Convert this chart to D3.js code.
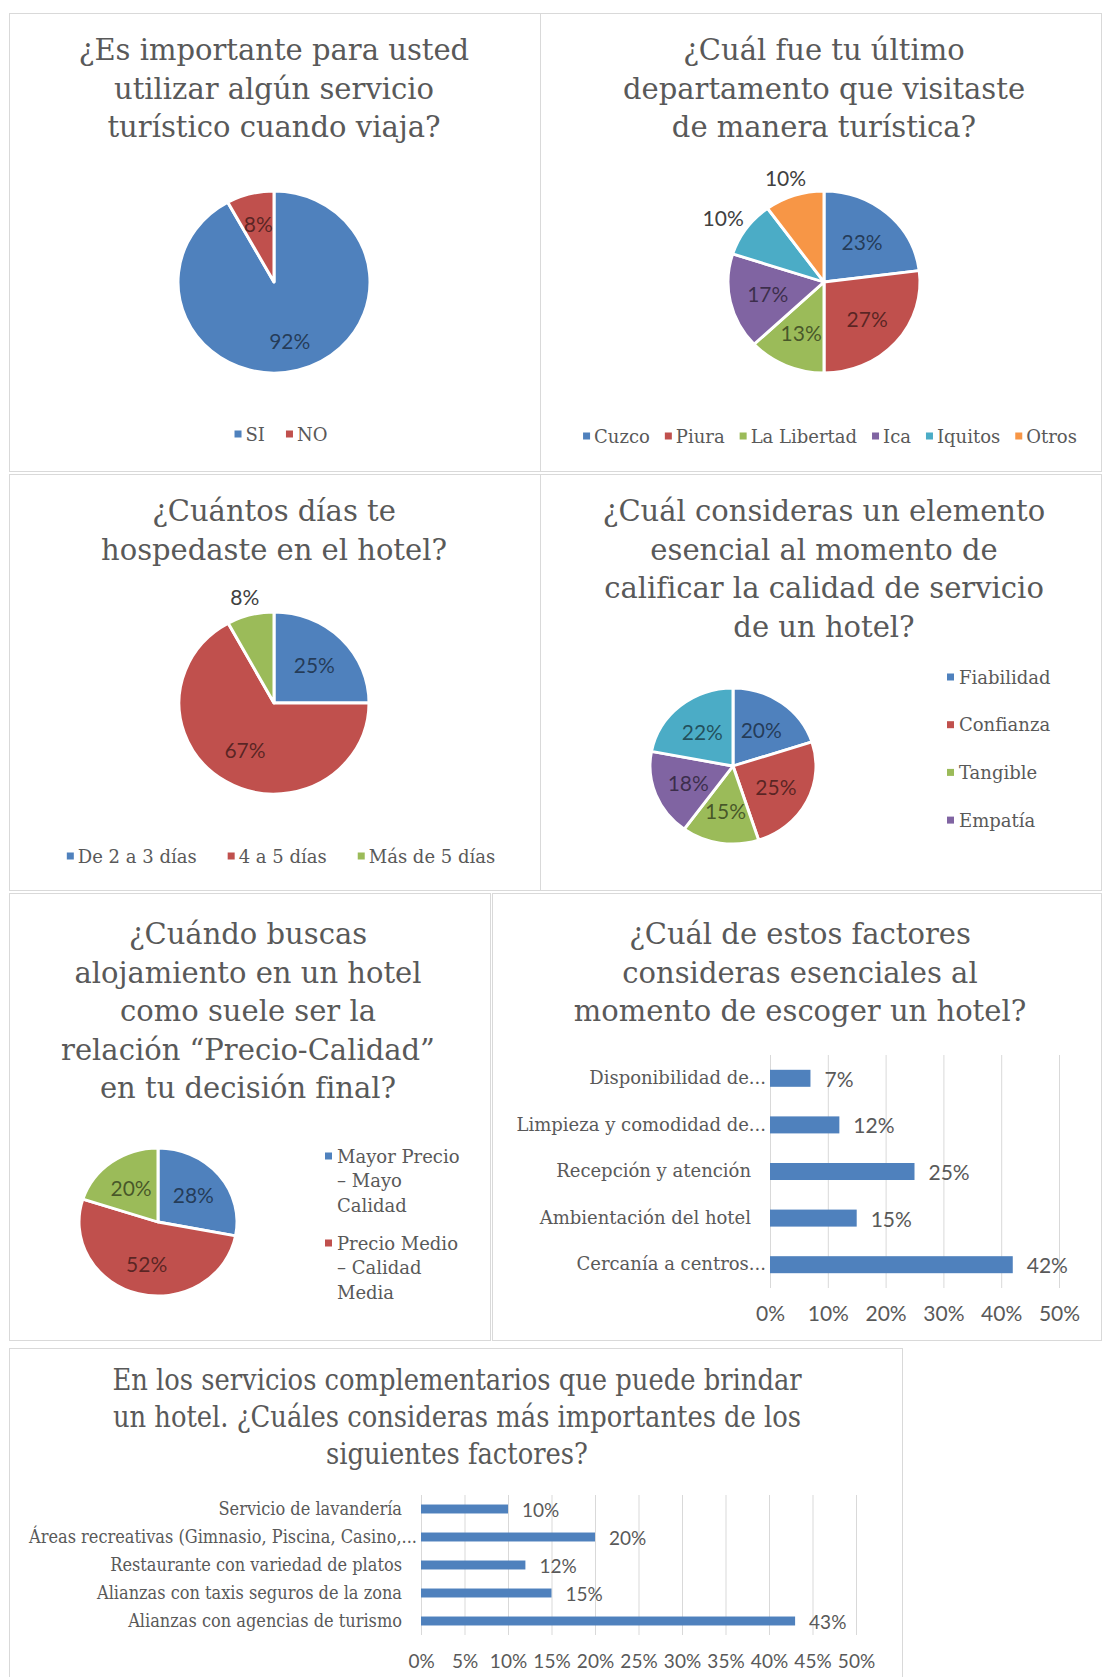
<!DOCTYPE html>
<html lang="es">
<head>
<meta charset="utf-8">
<title>Encuesta de servicios turísticos y hoteleros</title>
<script src="https://cdn.jsdelivr.net/npm/d3@7/dist/d3.min.js"></script>
<style>
  html, body { margin: 0; padding: 0; background: #ffffff; }
  svg { display: block; }
</style>
</head>
<body>
<script>
// ---- Datos de la encuesta ----
const servicioCategorias = ['SI', 'NO'];
const servicioValores = [92, 8];

const departamentoCategorias = ['Cuzco', 'Piura', 'La Libertad', 'Ica', 'Iquitos', 'Otros'];
const departamentoValores = [23, 27, 13, 17, 10, 10];

const diasCategorias = ['De 2 a 3 días', '4 a 5 días', 'Más de 5 días'];
const diasValores = [25, 67, 8];

const elementoCategorias = ['Fiabilidad', 'Confianza', 'Tangible', 'Empatía', 'Capacidad de respuesta'];
const elementoValores = [20, 25, 15, 18, 22];

const precioCategorias = ['Mayor Precio – Mayo Calidad', 'Precio Medio – Calidad Media', 'Menor Precio – Menor Calidad'];
const precioValores = [28, 52, 20];

const factorCategorias = ['Disponibilidad de...', 'Limpieza y comodidad de...', 'Recepción y atención', 'Ambientación del hotel', 'Cercanía a centros...'];
const factorValores = [7, 12, 25, 15, 42];
const factorTicks = [0, 10, 20, 30, 40, 50];

const complementoCategorias = ['Servicio de lavandería', 'Áreas recreativas (Gimnasio, Piscina, Casino,...', 'Restaurante con variedad de platos', 'Alianzas con taxis seguros de la zona', 'Alianzas con agencias de turismo'];
const complementoValores = [10, 20, 12, 15, 43];
const complementoTicks = [0, 5, 10, 15, 20, 25, 30, 35, 40, 45, 50];

const tituloServicio = ['¿Es importante para usted', 'utilizar algún servicio', 'turístico cuando viaja?'];
const tituloDepartamento = ['¿Cuál fue tu último', 'departamento que visitaste', 'de manera turística?'];
const tituloDias = ['¿Cuántos días te', 'hospedaste en el hotel?'];
const tituloElemento = ['¿Cuál consideras un elemento', 'esencial al momento de', 'calificar la calidad de servicio', 'de un hotel?'];
const tituloPrecio = ['¿Cuándo buscas', 'alojamiento en un hotel', 'como suele ser la', 'relación “Precio-Calidad”', 'en tu decisión final?'];
const tituloFactor = ['¿Cuál de estos factores', 'consideras esenciales al', 'momento de escoger un hotel?'];
const tituloComplemento = ['En los servicios complementarios que puede brindar', 'un hotel. ¿Cuáles consideras más importantes de los', 'siguientes factores?'];

// ---- Estilos comunes ----
const W = 1102, H = 1677;
const SERIF = "'DejaVu Serif', 'Liberation Serif', serif";
const SANS = "Lato, 'Open Sans', 'Liberation Sans', sans-serif";
const GRIS = '#595959';
const colores = ['#4F81BD', '#C0504D', '#9BBB59', '#8064A2', '#4BACC6', '#F79646'];

const svg = d3.select('body').append('svg').attr('width', W).attr('height', H);
svg.append('rect').attr('width', W).attr('height', H).attr('fill', '#fff');

function marco(x, y, w, h) {
  svg.append('rect').attr('x', x + 0.5).attr('y', y + 0.5).attr('width', w).attr('height', h)
    .attr('fill', '#fff').attr('stroke', '#d9d9d9').attr('stroke-width', 1);
}

function titulo(lineas, cx, y0, paso, opts = {}) {
  const size = opts.size || 29, sx = opts.sx || 1;
  const g = svg.append('g');
  lineas.forEach((t, i) => {
    g.append('text')
      .attr('transform', `translate(${cx},${y0 + i * paso}) scale(${sx},1)`)
      .attr('text-anchor', 'middle').attr('dominant-baseline', 'central')
      .style('font-family', SERIF).style('font-size', size + 'px').attr('fill', GRIS)
      .text(t);
  });
}

function pastel({ cx, cy, rx, ry, valores, fuera = [], rin = 0.6 }) {
  const arcos = d3.pie().sort(null).value(d => d)(valores);
  const arco = d3.arc().innerRadius(0).outerRadius(rx);
  const g = svg.append('g').attr('transform', `translate(${cx},${cy})`);
  g.append('g').attr('transform', `scale(1,${ry / rx})`)
    .selectAll('path').data(arcos).join('path')
    .attr('d', arco).attr('fill', (d, i) => colores[i])
    .attr('stroke', '#fff').attr('stroke-width', 3).attr('stroke-linejoin', 'round');
  g.selectAll('text').data(arcos).join('text')
    .style('font-family', SANS).style('font-size', '21px')
    .attr('text-anchor', 'middle').attr('dominant-baseline', 'central')
    .text(d => d.data + '%')
    .each(function (d, i) {
      const m = (d.startAngle + d.endAngle) / 2, ux = Math.sin(m), uy = -Math.cos(m);
      const t = d3.select(this);
      if (fuera.includes(i)) {
        const w = this.getComputedTextLength();
        t.attr('x', ux * (rx + 8) + ux * w / 2).attr('y', uy * (ry + 8) + uy * 11).attr('fill', '#404040');
      } else {
        t.attr('x', ux * rx * rin).attr('y', uy * ry * rin).attr('fill', '#000').attr('fill-opacity', 0.55);
      }
    });
}

function leyendaFila(categorias, cx, y, hueco) {
  const g = svg.append('g');
  let x = 0;
  categorias.forEach((c, i) => {
    g.append('rect').attr('x', x).attr('y', y - 3.5).attr('width', 7).attr('height', 7).attr('fill', colores[i]);
    const t = g.append('text').attr('x', x + 11).attr('y', y).attr('dominant-baseline', 'central')
      .style('font-family', SERIF).style('font-size', '18px').attr('fill', GRIS).text(c);
    x += 11 + t.node().getComputedTextLength() + hueco;
  });
  g.attr('transform', `translate(${cx - (x - hueco) / 2},0)`);
}

function leyendaColumna(categorias, x, y0, { ancho = 1e4, linea = 24.5, sep = 0, limite = Infinity }) {
  const g = svg.append('g');
  const estilo = s => s.style('font-family', SERIF).style('font-size', '18px').attr('fill', GRIS);
  let y = y0, lleno = false;
  categorias.forEach((c, i) => {
    if (lleno) return;
    const sonda = estilo(g.append('text'));
    const lineas = [];
    let actual = '';
    c.split(' ').forEach(p => {
      const prueba = actual ? actual + ' ' + p : p;
      sonda.text(prueba);
      if (sonda.node().getComputedTextLength() > ancho && actual) { lineas.push(actual); actual = p; }
      else actual = prueba;
    });
    lineas.push(actual);
    sonda.remove();
    if (y + (lineas.length - 1) * linea > limite) { lleno = true; return; }
    g.append('rect').attr('x', x).attr('y', y - 3.5).attr('width', 7).attr('height', 7).attr('fill', colores[i]);
    lineas.forEach((l, k) => {
      estilo(g.append('text')).attr('x', x + 12).attr('y', y + k * linea)
        .attr('dominant-baseline', 'central').text(l);
    });
    y += lineas.length * linea + sep;
  });
}

function barras({ categorias, valores, ticks, x0, x1, y0, y1, relleno, fuenteDatos, fuenteEje, padEje, fuenteCat = 18, sx = 1 }) {
  const x = d3.scaleLinear().domain([0, 50]).range([x0, x1]);
  const y = d3.scaleBand().domain(categorias).range([y0, y1]).paddingInner(relleno).paddingOuter(relleno / 2);

  const ejeX = svg.append('g').attr('transform', `translate(0,${y1})`)
    .call(d3.axisBottom(x).tickValues(ticks).tickFormat(d => d + '%').tickSize(-(y1 - y0)).tickPadding(padEje));
  ejeX.select('.domain').remove();
  ejeX.selectAll('.tick line').attr('stroke', '#d9d9d9');
  ejeX.selectAll('.tick text').attr('fill', GRIS).style('font-family', SANS).style('font-size', fuenteEje + 'px');

  const ejeY = svg.append('g').attr('transform', `translate(${x0},0) scale(${sx},1)`)
    .call(d3.axisLeft(y).tickSize(0));
  ejeY.select('.domain').remove();
  ejeY.selectAll('.tick text')
    .attr('x', d => -(d.endsWith('...') ? 4 : 19) / sx)
    .attr('fill', GRIS).style('font-family', SERIF).style('font-size', fuenteCat + 'px');

  svg.append('g').selectAll('rect').data(valores).join('rect')
    .attr('x', x(0)).attr('y', (d, i) => y(categorias[i]))
    .attr('width', d => x(d) - x(0)).attr('height', y.bandwidth())
    .attr('fill', '#4F81BD');

  svg.append('g').selectAll('text').data(valores).join('text')
    .attr('x', d => x(d) + 14).attr('y', (d, i) => y(categorias[i]) + y.bandwidth() / 2)
    .attr('dominant-baseline', 'central')
    .style('font-family', SANS).style('font-size', fuenteDatos + 'px').attr('fill', GRIS)
    .text(d => d + '%');
}

// ---- Marcos de cada gráfico ----
marco(9, 13, 531, 458);
marco(540, 13, 561, 458);
marco(9, 474, 531, 416);
marco(540, 474, 561, 416);
marco(9, 893, 481, 447);
marco(492, 893, 609, 447);
marco(9, 1348, 893, 340);

// 1. Uso de servicio turístico
titulo(tituloServicio, 274, 50, 38.5);
pastel({ cx: 274, cy: 282, rx: 96, ry: 91, valores: servicioValores, rin: 0.66 });
leyendaFila(servicioCategorias, 281, 434, 21);

// 2. Último departamento visitado
titulo(tituloDepartamento, 824, 50, 38.5);
pastel({ cx: 824, cy: 282, rx: 96, ry: 91, valores: departamentoValores, fuera: [4, 5] });
leyendaFila(departamentoCategorias, 830, 436, 15);

// 3. Días de hospedaje
titulo(tituloDias, 274, 511, 38.5);
pastel({ cx: 274, cy: 703, rx: 95, ry: 91, valores: diasValores, fuera: [2] });
leyendaFila(diasCategorias, 281, 856, 31);

// 4. Elemento esencial de calidad
titulo(tituloElemento, 824, 511, 38.5);
pastel({ cx: 733, cy: 766, rx: 83, ry: 78, valores: elementoValores, rin: 0.58 });
leyendaColumna(elementoCategorias, 947, 677, { sep: 23.2, limite: 850 });

// 5. Relación precio-calidad
titulo(tituloPrecio, 248, 934, 38.5);
pastel({ cx: 158, cy: 1222, rx: 79, ry: 74, valores: precioValores, rin: 0.58 });
leyendaColumna(precioCategorias, 325, 1156, { ancho: 130, sep: 13.5, limite: 1320 });

// 6. Factores para escoger hotel
titulo(tituloFactor, 800, 934, 38.5);
barras({
  categorias: factorCategorias, valores: factorValores, ticks: factorTicks,
  x0: 770, x1: 1059, y0: 1055, y1: 1288, relleno: 0.635,
  fuenteDatos: 21, fuenteEje: 21, padEje: 18
});

// 7. Servicios complementarios
titulo(tituloComplemento, 457, 1380, 37, { size: 29, sx: 0.89 });
barras({
  categorias: complementoCategorias, valores: complementoValores, ticks: complementoTicks,
  x0: 421, x1: 856, y0: 1495, y1: 1635, relleno: 0.68,
  fuenteDatos: 19, fuenteEje: 19, padEje: 20, fuenteCat: 18, sx: 0.9
});
</script>
</body>
</html>
